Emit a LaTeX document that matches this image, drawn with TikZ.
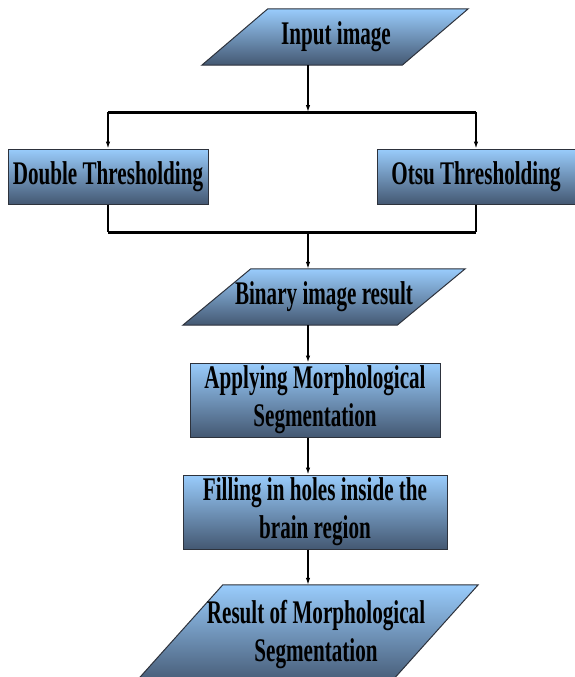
\documentclass[tikz,border=0pt]{standalone}
\usepackage{fontspec}
\setmainfont{Liberation Serif}[FakeStretch=0.64]
\usepackage{tikz}
\usetikzlibrary{arrows.meta,calc,backgrounds}
\definecolor{boxtop}{RGB}{153,204,252}
\definecolor{boxbot}{RGB}{68,88,114}
\definecolor{boxline}{RGB}{45,50,60}

\begin{document}
\begin{tikzpicture}[x=1pt,y=-1pt,
   font=\fontsize{33}{38}\selectfont\bfseries,
   >={Latex[length=7pt,width=4.5pt]},
   f/.style={draw=boxline,line width=1pt,top color=boxtop,bottom color=boxbot},
   rbox/.style={f,align=center,inner sep=0pt},
   ptxt/.style={align=center,inner sep=0pt},
   link/.style={line width=1.2pt,->},
   bar/.style={line width=3pt}]
  \useasboundingbox (0,0) rectangle (575,677);

  \node[ptxt,minimum width=200pt,minimum height=56pt] (input) at (336,37) {Input image};
  \node[rbox,minimum width=200pt,minimum height=55pt] (double) at (108,176.5) {Double Thresholding};
  \node[rbox,minimum width=198pt,minimum height=55pt] (otsu) at (476,176.5) {Otsu Thresholding};
  \node[ptxt,minimum width=214pt,minimum height=56pt] (binary) at (324,297) {Binary image result};
  \node[rbox,minimum width=250pt,minimum height=74pt] (morph) at (315,400) {Applying Morphological\\Segmentation};
  \node[rbox,minimum width=264pt,minimum height=74pt] (fill) at (315,512) {Filling in holes inside the\\brain region};
  \node[ptxt,minimum width=255pt,minimum height=100pt] (result) at (316,635) {Result of Morphological\\Segmentation};

  \begin{scope}[on background layer]
    \shadedraw[f] ([xshift=-34pt]input.south west) -- ([xshift=-34pt]input.south east)
      -- ([xshift=32pt]input.north east) -- ([xshift=32pt]input.north west) -- cycle;
    \shadedraw[f] ([xshift=-34pt]binary.south west) -- ([xshift=-34pt]binary.south east)
      -- ([xshift=34pt]binary.north east) -- ([xshift=34pt]binary.north west) -- cycle;
    \shadedraw[f] ([xshift=-55.5pt]result.south west) -- ([xshift=-55.5pt]result.south east)
      -- ([xshift=34.5pt]result.north east) -- ([xshift=34.5pt]result.north west) -- cycle;
  \end{scope}

  \coordinate (split) at (308,112);
  \coordinate (join) at (308,232);

  \draw[link] (input.south -| split) -- (split);
  \draw[bar] (double.north |- split) -- (otsu.north |- split);
  \draw[link] (double.north |- split) -- (double);
  \draw[link] (otsu.north |- split) -- (otsu);
  \draw[line width=1.2pt] (double.south) -- (double.south |- join);
  \draw[line width=1.2pt] (otsu.south) -- (otsu.south |- join);
  \draw[bar] (double.south |- join) -- (otsu.south |- join);
  \draw[link] (join) -- (binary.north -| join);
  \draw[link] (binary.south -| join) -- (morph.north -| join);
  \draw[link] (morph.south -| join) -- (fill.north -| join);
  \draw[link] (fill.south -| join) -- (result.north -| join);
\end{tikzpicture}
\end{document}
